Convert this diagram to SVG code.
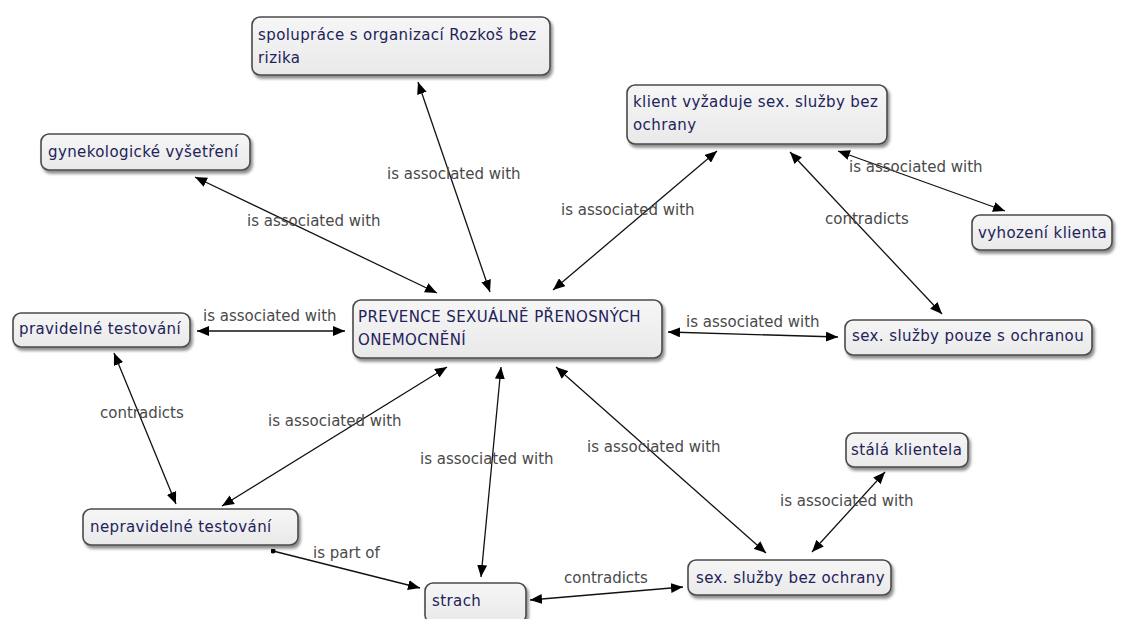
<svg xmlns="http://www.w3.org/2000/svg" width="1121" height="619" viewBox="0 0 1121 619">
<style>
.box{fill:url(#g);stroke:#4a4a4a;stroke-width:1.6;filter:url(#sh)}
.nt{font-family:"DejaVu Sans",sans-serif;font-size:15px;letter-spacing:0.4px;fill:#22225a}
.lt{font-family:"DejaVu Sans",sans-serif;font-size:15px;fill:#4a4a4a}
.c{stroke:#111;stroke-width:1.3;fill:none}
.b{marker-start:url(#a);marker-end:url(#a)}
</style>
<defs>
<linearGradient id="g" x1="0" y1="0" x2="0" y2="1"><stop offset="0" stop-color="#f6f6f6"/><stop offset="1" stop-color="#e9e9e9"/></linearGradient>
<filter id="sh" x="-10%" y="-20%" width="130%" height="160%"><feDropShadow dx="2" dy="3" stdDeviation="1.8" flood-color="#000" flood-opacity="0.45"/></filter>
<marker id="a" viewBox="0 0 12 10" refX="12" refY="5" markerWidth="12" markerHeight="10" markerUnits="userSpaceOnUse" orient="auto-start-reverse"><path d="M0,0 L12,5 L0,10 Z" fill="#000"/></marker>
<marker id="d" viewBox="0 0 6 6" refX="3" refY="3" markerWidth="5" markerHeight="5" markerUnits="userSpaceOnUse"><circle cx="3" cy="3" r="3" fill="#000"/></marker>
</defs>
<g id="connectors">
<line class="c b" x1="490" y1="292" x2="418" y2="82"/>
<line class="c b" x1="437" y1="293" x2="195" y2="177"/>
<line class="c b" x1="553" y1="290" x2="717" y2="151"/>
<line class="c b" x1="838" y1="151" x2="1005" y2="211"/>
<line class="c b" x1="790" y1="152" x2="942" y2="314"/>
<line class="c b" x1="345" y1="331" x2="197" y2="331"/>
<line class="c b" x1="668" y1="332" x2="838" y2="337"/>
<line class="c b" x1="447" y1="367" x2="222" y2="506"/>
<line class="c b" x1="501" y1="367" x2="481" y2="577"/>
<line class="c b" x1="556" y1="367" x2="766" y2="553"/>
<line class="c b" x1="114" y1="353" x2="176" y2="504"/>
<line class="c b" x1="885" y1="472" x2="812" y2="552"/>
<line class="c b" x1="530" y1="600" x2="683" y2="587"/>
<line class="c" x1="273" y1="551" x2="420" y2="588" marker-start="url(#d)" marker-end="url(#a)"/>
<text class="lt" x="387" y="179">is associated with</text>
<text class="lt" x="247" y="226">is associated with</text>
<text class="lt" x="561" y="215">is associated with</text>
<text class="lt" x="849" y="172">is associated with</text>
<text class="lt" x="825" y="224">contradicts</text>
<text class="lt" x="203" y="321">is associated with</text>
<text class="lt" x="686" y="327">is associated with</text>
<text class="lt" x="268" y="426">is associated with</text>
<text class="lt" x="420" y="464">is associated with</text>
<text class="lt" x="587" y="452">is associated with</text>
<text class="lt" x="100" y="418">contradicts</text>
<text class="lt" x="780" y="506">is associated with</text>
<text class="lt" x="313" y="558">is part of</text>
<text class="lt" x="564" y="583">contradicts</text>
</g>
<g id="n-spoluprace"><rect class="box" x="252" y="17" width="298" height="58" rx="8"/><text class="nt" x="258" y="40">spolupráce s organizací Rozkoš bez</text><text class="nt" x="258" y="63">rizika</text></g>
<g id="n-klient"><rect class="box" x="627" y="85" width="260" height="59" rx="8"/><text class="nt" x="633" y="107">klient vyžaduje sex. služby bez</text><text class="nt" x="633" y="130">ochrany</text></g>
<g id="n-gyn"><rect class="box" x="41" y="134" width="209" height="36" rx="8"/><text class="nt" x="48" y="157">gynekologické vyšetření</text></g>
<g id="n-vyhozeni"><rect class="box" x="972" y="215" width="140" height="35" rx="8"/><text class="nt" x="978" y="238">vyhození klienta</text></g>
<g id="n-prevence"><rect class="box" x="353" y="300" width="309" height="58" rx="8"/><text class="nt" x="358" y="322">PREVENCE SEXUÁLNĚ PŘENOSNÝCH</text><text class="nt" x="358" y="345">ONEMOCNĚNÍ</text></g>
<g id="n-pravidelne"><rect class="box" x="13" y="313" width="177" height="34" rx="8"/><text class="nt" x="19" y="334">pravidelné testování</text></g>
<g id="n-pouze"><rect class="box" x="845" y="320" width="247" height="35" rx="8"/><text class="nt" x="852" y="341">sex. služby pouze s ochranou</text></g>
<g id="n-stala"><rect class="box" x="846" y="433" width="122" height="34" rx="8"/><text class="nt" x="851" y="455">stálá klientela</text></g>
<g id="n-nepravidelne"><rect class="box" x="83" y="509" width="215" height="36" rx="8"/><text class="nt" x="90" y="532">nepravidelné testování</text></g>
<g id="n-bez"><rect class="box" x="688" y="560" width="203" height="35" rx="8"/><text class="nt" x="696" y="583">sex. služby bez ochrany</text></g>
<g id="n-strach"><rect class="box" x="425" y="583" width="101" height="40" rx="8"/><text class="nt" x="432" y="606">strach</text></g>
</svg>
